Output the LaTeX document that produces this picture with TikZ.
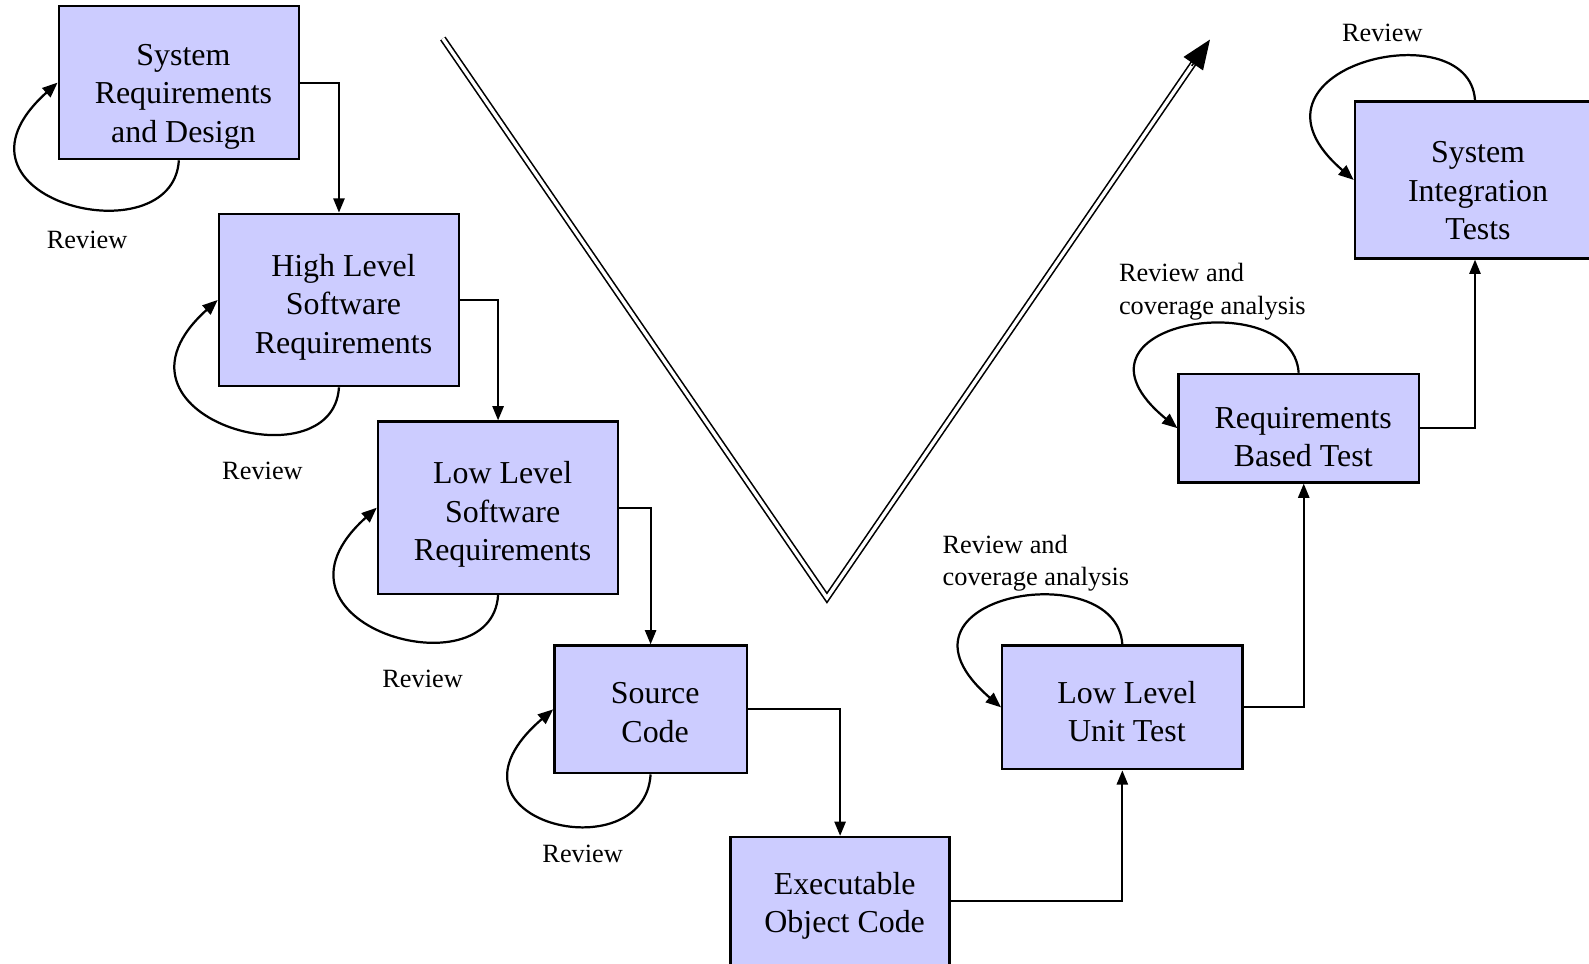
\documentclass[tikz,border=0pt]{standalone}
\usepackage{fontspec}
\setmainfont{Liberation Serif}
\usetikzlibrary{arrows.meta}
\definecolor{boxfill}{RGB}{204,204,255}

\begin{document}
\begin{tikzpicture}[x=1pt, y=-1pt,
	phase/.style={draw, line width=2.4pt, fill=boxfill, inner sep=0pt, minimum width=237pt},
	words/.style={align=center, inner sep=0pt, xshift=4.5pt, font=\fontsize{31.5}{38}\selectfont},
	flow/.style={line width=2pt, -{Triangle[length=14pt,width=11pt]}},
	review/.style={line width=2.2pt, -{Triangle[length=15pt,width=12pt]}},
	note/.style={inner sep=0pt, font=\fontsize{26}{32}\selectfont}]
		%%%%% START %%%%%
		\useasboundingbox (0,0) rectangle (1568,951);
		\clip (0,0) rectangle (1568,951);
		
		% the V
		\draw[line width=1.6pt, double distance=3.4pt] (437,38) -- (816,590) -- (1178,62);
		\draw[line width=1.6pt, -{Triangle[length=29pt,width=23pt]}] (1176,65) -- (1194,39);
		
		% left side
		\node[phase, minimum height=151pt, label={[words, yshift=-14pt]center:System\\Requirements\\and Design}] (sysreq) at (176.5,81.5) {};
		\node[phase, minimum height=170pt, label={[words, yshift=-7pt]center:High Level\\Software\\Requirements}] (hlreq) at (334.5,296) {};
		\node[phase, minimum height=170pt, label={[words, yshift=-7pt]center:Low Level\\Software\\Requirements}] (llreq) at (491.5,501) {};
		\node[phase, minimum width=190pt, minimum height=126pt, label={[words, yshift=-3pt]center:Source\\Code}] (srccode) at (642,700) {};
		\node[phase, minimum width=216pt, minimum height=126pt, label={[words, yshift=-5pt]center:Executable\\Object Code}] (objcode) at (829,889) {};
		
		% right side
		\node[phase, minimum height=122pt, label={[words, yshift=-4pt]center:Low Level\\Unit Test}] (unittest) at (1107.5,698) {};
		\node[phase, minimum height=107pt, label={[words, yshift=-9pt]center:Requirements\\Based Test}] (reqtest) at (1281.5,422.5) {};
		\node[phase, minimum height=155pt, label={[words, yshift=-11pt, xshift=-1.5pt]center:System\\Integration\\Tests}] (systest) at (1455.5,177.5) {};
		
		\draw[flow] (sysreq.east) -| (hlreq.north);
		\draw[flow] (hlreq.east) -| (llreq.north);
		\draw[flow] (llreq.east) -| (srccode.north);
		\draw[flow] (srccode.east) -| (objcode.north);
		\draw[flow] (objcode.east) -| (unittest.south);
		\draw[flow] (unittest.east) -| ([xshift=5pt]reqtest.south);
		\draw[flow] (reqtest.east) -| (systest.south);
		
		% review loops
		\draw[review] (sysreq.south) .. controls +(-6,98) and +(-128,115) .. (sysreq.west);
		\draw[review] (hlreq.south) .. controls +(-6,98) and +(-128,115) .. (hlreq.west);
		\draw[review] (llreq.south) .. controls +(-6,98) and +(-128,115) .. (llreq.west);
		\draw[review] (srccode.south) .. controls +(-6,98) and +(-128,110) .. (srccode.west);
		\draw[review] (unittest.north) .. controls +(-6,-90) and +(-128,-110) .. (unittest.west);
		\draw[review] (reqtest.north) .. controls +(-6,-88) and +(-128,-105) .. (reqtest.west);
		\draw[review] (systest.north) .. controls +(-6,-90) and +(-128,-110) .. (systest.west);
		
		\node[note] (rev1) at (86,237) {Review};
		\node[note] (rev2) at (259,465) {Review};
		\node[note] (rev3) at (417,670) {Review};
		\node[note] (rev4) at (575,843) {Review};
		\node[note, anchor=west, align=left] (rev5) at (930,556) {Review and\\coverage analysis};
		\node[note, anchor=west, align=left] (rev6) at (1104,288) {Review and\\coverage analysis};
		\node[note] (rev7) at (1364,32) {Review};
		
		%%%%% END %%%%%
	\end{tikzpicture}
\end{document}
